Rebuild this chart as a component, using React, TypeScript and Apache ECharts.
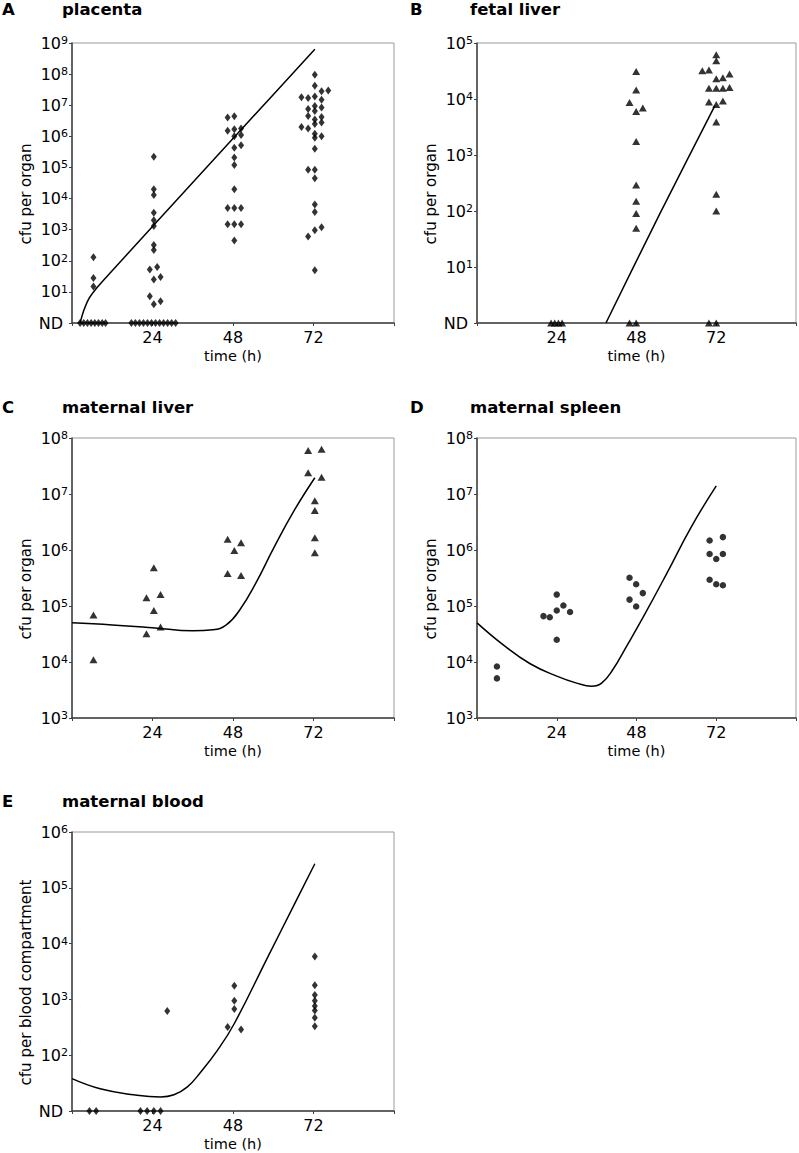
import React, { useEffect, useRef } from "react";
import * as echarts from "echarts";

const FONT = "DejaVu Sans";

// ---------- Panel A: placenta ----------
const placentaNDTimes = [2.4, 3.5, 4.6, 5.7, 6.8, 7.9, 9.0, 10.0, 17.7, 18.9, 20.1, 21.3, 22.5, 23.7, 24.9, 26.1, 27.3, 28.5, 29.7, 30.9];
const placentaPts: [number, number][] = [
  [6.4, 130], [6.4, 28], [6.4, 15],
  [24.4, 2.2e5], [24.4, 2.0e4], [24.4, 1.3e4], [24.4, 3.5e3], [24.4, 2.0e3], [24.4, 1.3e3], [24.4, 320], [24.4, 220],
  [23.2, 52], [25.4, 63], [24.4, 25], [26.4, 30], [23.2, 7.2], [24.4, 4], [26.4, 5],
  [46.4, 4.0e6], [48.4, 4.4e6], [46.4, 1.5e6], [48.4, 1.7e6], [50.4, 1.8e6], [48.4, 1.0e6], [50.4, 1.1e6],
  [48.4, 4.3e5], [50.4, 5.2e5], [48.4, 2.1e5], [48.4, 1.2e5], [48.4, 2.0e4],
  [46.4, 5.0e3], [48.4, 5.0e3], [50.4, 5.0e3], [46.4, 1.5e3], [48.4, 1.5e3], [50.4, 1.5e3], [48.4, 450],
  [72.4, 9.5e7], [72.4, 4.2e7], [74.4, 2.8e7], [76.4, 3.0e7],
  [68.4, 1.8e7], [70.4, 1.7e7], [72.4, 1.9e7], [74.4, 1.5e7],
  [70.4, 7.5e6], [72.4, 9.5e6], [74.4, 8.5e6], [72.4, 6.5e6],
  [70.4, 4.5e6], [72.4, 3.5e6], [74.4, 4.2e6], [72.4, 2.5e6], [74.4, 2.8e6],
  [68.4, 2.0e6], [70.4, 1.8e6], [72.4, 1.2e6], [72.4, 9.0e5], [74.4, 1.0e6],
  [72.4, 4.0e5], [70.4, 8.5e4], [72.4, 8.5e4], [72.4, 4.5e4],
  [72.4, 6.5e3], [72.4, 3.7e3], [72.4, 950], [74.4, 1.2e3], [70.4, 600], [72.4, 50],
];
const placentaFit: [number, number][] = [
  [2.4, 1], [3.5, 2.5], [5, 6], [7, 12], [10, 28], [24, 1.26e3], [48, 8.5e5], [72.4, 6.3e8],
];

// ---------- Panel B: fetal liver ----------
const fetalNDTimes = [22.3, 23.4, 24.5, 25.6, 45.9, 47.9, 69.8, 72.0];
const fetalPts: [number, number][] = [
  [47.9, 3.1e4], [47.9, 1.45e4], [45.9, 8.7e3], [49.9, 6.9e3], [47.9, 6.0e3], [47.9, 1.75e3],
  [47.9, 290], [47.9, 150], [47.9, 90], [47.9, 49],
  [72.0, 6.2e4], [72.0, 4.8e4], [67.8, 3.2e4], [69.8, 3.3e4], [72.0, 2.3e4], [74.0, 2.4e4], [76.0, 2.8e4],
  [69.8, 1.55e4], [72.0, 1.55e4], [74.0, 1.55e4], [76.0, 1.6e4],
  [69.8, 8.8e3], [72.0, 8.0e3], [74.0, 9.2e3], [72.0, 3.9e3], [72.0, 200], [72.0, 100],
];
const fetalFit: [number, number][] = [[38.8, 1], [55, 89], [71.6, 7.6e3]];

// ---------- Panel C: maternal liver ----------
const mLiverPts: [number, number][] = [
  [6.4, 6.9e4], [6.4, 1.1e4],
  [22.2, 1.4e5], [24.4, 4.8e5], [24.4, 8.3e4], [26.4, 1.6e5], [22.2, 3.2e4], [26.4, 4.2e4],
  [46.4, 3.8e5], [46.4, 1.55e6], [48.4, 9.8e5], [50.4, 1.35e6], [50.4, 3.5e5],
  [70.4, 6.0e7], [74.4, 6.3e7], [70.4, 2.4e7], [74.4, 2.0e7], [72.4, 7.6e6], [72.4, 5.1e6], [72.4, 1.66e6], [72.4, 8.9e5],
];
const mLiverFit: [number, number][] = [
  [0, 5.0e4], [12, 4.6e4], [24, 4.1e4], [36, 3.6e4], [42, 3.75e4], [46, 4.6e4],
  [50, 8.5e4], [55, 2.7e5], [60, 1.05e6], [66, 4.8e6], [72.4, 1.95e7],
];

// ---------- Panel D: maternal spleen ----------
const mSpleenPts: [number, number][] = [
  [6.0, 8.3e3], [6.0, 5.1e3],
  [20.0, 6.6e4], [21.9, 6.3e4], [24.0, 1.6e5], [24.0, 8.3e4], [26.0, 1.02e5], [28.0, 7.8e4], [24.0, 2.5e4],
  [45.9, 3.2e5], [47.9, 2.45e5], [49.9, 1.7e5], [45.9, 1.3e5], [47.9, 9.8e4],
  [70.0, 1.48e6], [74.0, 1.7e6], [70.0, 8.5e5], [74.0, 8.5e5], [72.0, 6.9e5], [70.0, 2.95e5], [72.0, 2.45e5], [74.0, 2.35e5],
];
const mSpleenFit: [number, number][] = [
  [0, 5.0e4], [8, 2.0e4], [16, 9.3e3], [24, 5.6e3], [30, 4.2e3], [34.5, 3.7e3], [37.5, 4.2e3],
  [41, 7.5e3], [45, 1.9e4], [50, 6.3e4], [57, 3.7e5], [64.5, 2.6e6], [72.0, 1.4e7],
];

// ---------- Panel E: maternal blood ----------
const mBloodNDTimes = [5.2, 7.2, 20.4, 22.4, 24.4, 26.4];
const mBloodPts: [number, number][] = [
  [28.4, 620], [46.4, 320], [48.4, 1.75e3], [48.4, 950], [48.4, 670], [50.4, 290],
  [72.4, 5.9e3], [72.4, 1.8e3], [72.4, 1.2e3], [72.4, 950], [72.4, 760], [72.4, 630], [72.4, 470], [72.4, 330],
];
const mBloodFit: [number, number][] = [
  [0, 38], [8.4, 25], [18.4, 19.5], [26.4, 17.8], [30.4, 19.5], [34.4, 27], [38.4, 50], [43.4, 123],
  [48.4, 370], [58.4, 5.8e3], [66.4, 5.2e4], [72.4, 2.7e5],
];

const xTicks = [24, 48, 72];

const panelLetters = ["A", "B", "C", "D", "E"];
const panelTitles = ["placenta", "fetal liver", "maternal liver", "maternal spleen", "maternal blood"];
const yNames = ["cfu per organ", "cfu per organ", "cfu per organ", "cfu per organ", "cfu per blood compartment"];

export default function App() {
  const ref = useRef<HTMLDivElement>(null);
  useEffect(() => {
    if (!ref.current) return;
    const chart = echarts.init(ref.current, undefined, { renderer: "svg" });

    const grids = [
      { left: 72, top: 43, width: 322, height: 280 },
      { left: 477, top: 43, width: 321, height: 280 },
      { left: 72, top: 438, width: 322, height: 280 },
      { left: 477, top: 438, width: 321, height: 280 },
      { left: 72, top: 832, width: 322, height: 279 },
    ].map((g) => ({ ...g, show: true, borderColor: "#9a9a9a", borderWidth: 1, containLabel: false }));

    const yRanges: [number, number, number | null][] = [
      [1, 1e9, 1],
      [1, 1e5, 1],
      [1e3, 1e8, null],
      [1e3, 1e8, null],
      [10, 1e6, 10],
    ];

    const rich = {
      b: { fontSize: 16, fontFamily: FONT, color: "#000", verticalAlign: "bottom", padding: [5, 0, 0, 0], lineHeight: 16 },
      s: { fontSize: 11, fontFamily: FONT, color: "#000", verticalAlign: "top", lineHeight: 11 },
      nd: { fontSize: 16, fontFamily: FONT, color: "#000", lineHeight: 16, padding: [0, 5, 0, 0] },
    };

    const axisLine = { show: true, lineStyle: { color: "#404040", width: 1.5 } };
    const axisTick = { show: true, length: 3, lineStyle: { color: "#404040", width: 1 } };

    const xAxis = grids.map((_, i) => ({
      type: "value",
      gridIndex: i,
      min: 0,
      max: 96,
      interval: 24,
      axisLine,
      axisTick,
      splitLine: { show: false },
      axisLabel: {
        formatter: (v: number) => (xTicks.includes(v) ? String(v) : ""),
        fontSize: 16,
        fontFamily: FONT,
        color: "#000",
        margin: 6,
        showMinLabel: true,
        showMaxLabel: true,
      },
      name: "time (h)",
      nameLocation: "middle",
      nameGap: 25,
      nameTextStyle: { fontSize: 14.5, fontFamily: FONT, color: "#000" },
    }));

    const yAxis = yRanges.map(([min, max, nd], i) => {
      const decades = Math.round(Math.log10(max / min));
      return {
        type: "log",
        logBase: 10,
        gridIndex: i,
        min,
        max,
        splitNumber: decades,
        axisLine,
        axisTick,
        splitLine: { show: false },
        axisLabel: {
          formatter: (v: number) => {
            const e = Math.round(Math.log10(v));
            if (nd !== null && Math.abs(v - nd) < nd * 1e-6) return "{nd|ND}";
            return "{b|10}{s|" + e + "}";
          },
          rich,
          margin: 4,
          showMinLabel: true,
          showMaxLabel: true,
        },
        name: yNames[i],
        nameLocation: "middle",
        nameGap: 39,
        nameTextStyle: { fontSize: 15, fontFamily: FONT, color: "#000", padding: [0, 22, 0, 0] },
      };
    });

    const scatter = (i: number, data: [number, number][], symbol: string, size: any) => ({
      type: "scatter",
      xAxisIndex: i,
      yAxisIndex: i,
      data,
      symbol,
      symbolSize: size,
      itemStyle: { color: "#000" },
      clip: false,
      silent: true,
    });
    const fit = (i: number, data: [number, number][], smooth: number) => ({
      type: "line",
      xAxisIndex: i,
      yAxisIndex: i,
      data,
      showSymbol: false,
      smooth,
      lineStyle: { color: "#000", width: 1.5 },
      silent: true,
      clip: false,
    });
    const nd = (times: number[], v: number): [number, number][] => times.map((t) => [t, v]);

    const DIA = [6, 8];
    const TRI = [8, 7];

    const series = [
      fit(0, placentaFit, 0.2),
      scatter(0, placentaPts, "diamond", DIA),
      scatter(0, nd(placentaNDTimes, 1), "diamond", DIA),
      fit(1, fetalFit, 0.2),
      scatter(1, fetalPts, "triangle", TRI),
      scatter(1, nd(fetalNDTimes, 1), "triangle", TRI),
      fit(2, mLiverFit, 0.45),
      scatter(2, mLiverPts, "triangle", TRI),
      fit(3, mSpleenFit, 0.45),
      scatter(3, mSpleenPts, "circle", 6.5),
      fit(4, mBloodFit, 0.45),
      scatter(4, mBloodPts, "diamond", DIA),
      scatter(4, nd(mBloodNDTimes, 10), "diamond", DIA),
    ];

    const titlePos = [
      [2, 62, 1],
      [410, 470, 1],
      [2, 62, 399],
      [410, 470, 399],
      [2, 62, 793],
    ];
    const tStyle = { fontSize: 16.5, fontWeight: "bold", fontFamily: FONT, color: "#000" };
    const title: any[] = [];
    titlePos.forEach(([lx, tx, ty], i) => {
      title.push({ text: panelLetters[i], left: lx, top: ty, padding: 0, textStyle: tStyle });
      title.push({ text: panelTitles[i], left: tx, top: ty, padding: 0, textStyle: tStyle });
    });

    chart.setOption({
      animation: false,
      backgroundColor: "#fff",
      title,
      grid: grids,
      xAxis,
      yAxis,
      series,
    } as any);

    return () => chart.dispose();
  }, []);

  return (
    <div
      ref={ref}
      style={{ position: "absolute", left: 0, top: 0, width: 799, height: 1153, background: "#fff" }}
    />
  );
}
